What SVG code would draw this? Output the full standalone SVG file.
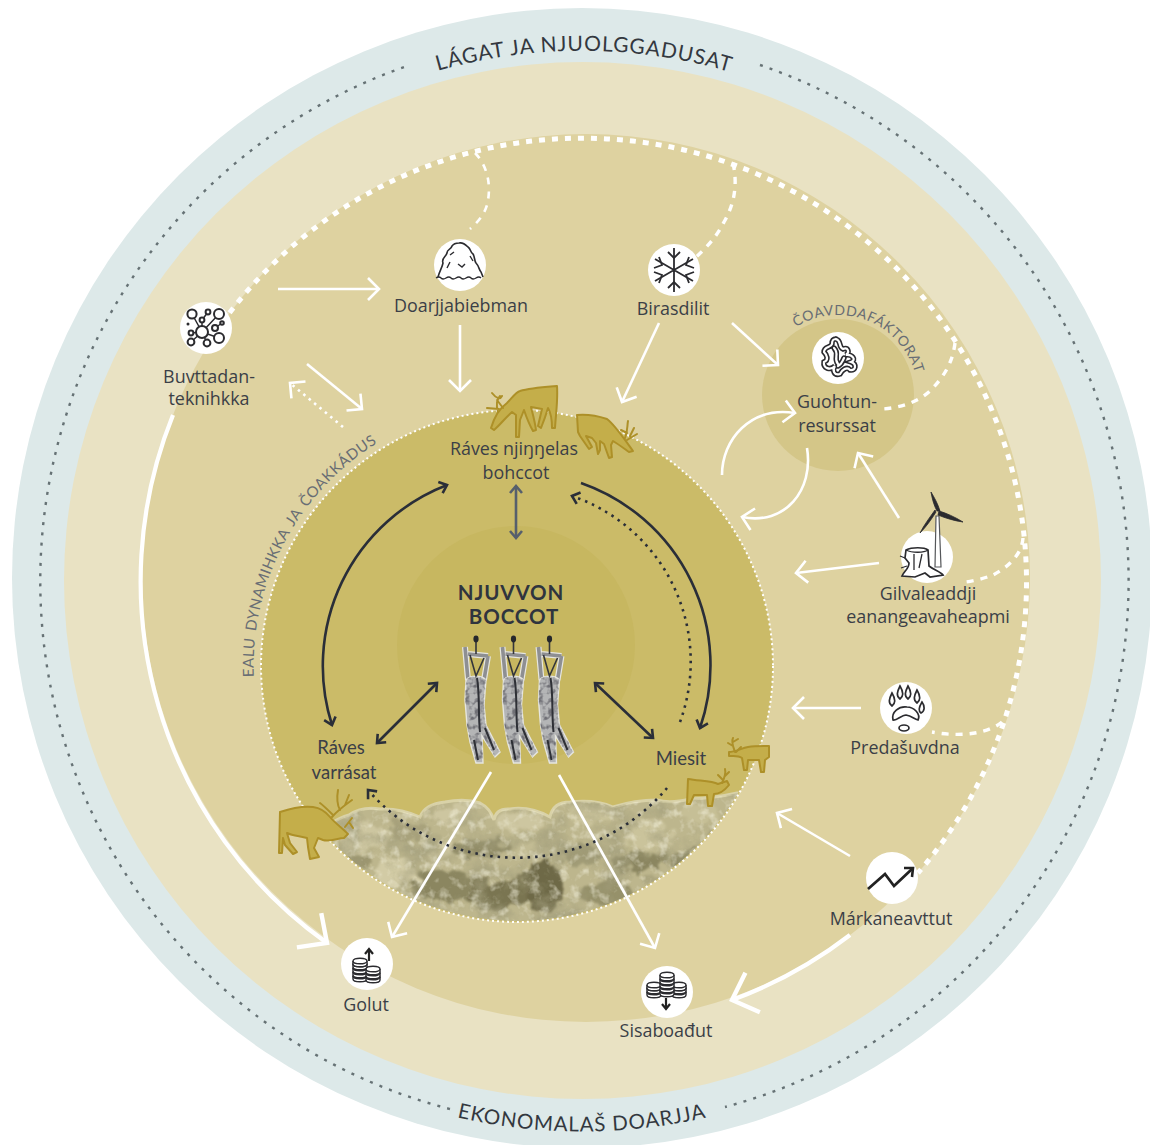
<svg xmlns="http://www.w3.org/2000/svg" xmlns:xlink="http://www.w3.org/1999/xlink" width="1150" height="1145" viewBox="0 0 1150 1145">
<style>
.lbl{font-family:"Open Sans","Noto Sans",sans-serif;font-size:17.9px;fill:#3b3f47;text-anchor:middle}
.gill{font-family:Lato,"Open Sans",sans-serif;font-size:18.5px;fill:#3b3f47;text-anchor:middle}
.title{font-family:Lato,sans-serif;font-size:20.5px;font-weight:700;fill:#2f343e;text-anchor:middle;letter-spacing:.9px}
.ring{font-family:Lato,sans-serif;fill:#33383f}
.sub{font-family:Lato,sans-serif;fill:#686d74}
.w{fill:none;stroke:#fff;stroke-width:2.6}
.wd{fill:none;stroke:#fff;stroke-width:2.6;stroke-dasharray:2.5 4.5}
.thick{fill:none;stroke:#fff;stroke-width:4.2}
.dk{fill:none;stroke:#2a2e38;stroke-width:2.6}
.dkd{fill:none;stroke:#2a2e38;stroke-width:2.6;stroke-dasharray:2.5 5}
.branch{fill:none;stroke:#fff;stroke-width:3.4;stroke-dasharray:7 7}
.ic{fill:none;stroke:#2b2b2f;stroke-width:2}
.deer{fill:#c4ae4a;stroke:#ad9028;stroke-width:2;stroke-linejoin:round}
.ant{fill:none;stroke:#ad9028;stroke-width:2;stroke-linecap:round}
.disc{fill:#fff}
</style>
<defs>
<path id="pTop" d="M243,174 A528,528 0 0 1 921,174"/>
<path id="pBot" d="M226,1002 A554,554 0 0 0 938,1002"/>
<path id="pEalu" d="M254,680 A263,263 0 0 1 517,403"/>
<path id="pCoav" d="M758,395 A80,80 0 0 1 918,395"/>
<marker id="mw" viewBox="-16 -16 32 32" markerWidth="32" markerHeight="32" markerUnits="userSpaceOnUse" orient="auto" overflow="visible"><path d="M-11,-11 L0,0 L-11,11" fill="none" stroke="#fff" stroke-width="2.6"/></marker>
<marker id="mt" viewBox="-34 -34 68 68" markerWidth="68" markerHeight="68" markerUnits="userSpaceOnUse" orient="auto" overflow="visible"><path d="M-22,-21 L0,0 L-22,21" fill="none" stroke="#fff" stroke-width="4.4"/></marker>
<marker id="md" viewBox="-12 -12 24 24" markerWidth="24" markerHeight="24" markerUnits="userSpaceOnUse" orient="auto-start-reverse" overflow="visible"><path d="M-7,-6 L0,0 L-7,6" fill="none" stroke="#2a2e38" stroke-width="2.6"/></marker>
<marker id="ms" viewBox="-12 -12 24 24" markerWidth="24" markerHeight="24" markerUnits="userSpaceOnUse" orient="auto-start-reverse" overflow="visible"><path d="M-7,-6 L0,0 L-7,6" fill="none" stroke="#565f6c" stroke-width="2.6"/></marker>
<clipPath id="cInner"><circle cx="517" cy="666" r="255"/></clipPath>
<path id="herdShape" d="M318,838 Q330,820 349,815 Q362,806 380,809 Q400,808 420,817 Q425,804 445,802 Q465,798 480,803 Q490,808 494,820 Q496,808 510,809 Q530,806 550,817 Q553,802 570,802 Q595,799 613,807 Q635,800 657,800 Q670,804 690,799 Q715,798 737,793 L790,790 V960 H300 Z"/>
<clipPath id="cHerd"><use href="#herdShape"/></clipPath>
<filter id="tex" x="0" y="0" width="1" height="1"><feTurbulence type="fractalNoise" baseFrequency=".03" numOctaves="5" seed="11"/><feColorMatrix values="0 0 0 0 .36 0 0 0 0 .34 0 0 0 0 .2 3.4 0 0 0 -1.55"/><feComposite operator="in" in2="SourceGraphic"/></filter>
<filter id="tex2" x="0" y="0" width="1" height="1"><feTurbulence type="fractalNoise" baseFrequency=".1" numOctaves="3" seed="23"/><feColorMatrix values="0 0 0 0 .93 0 0 0 0 .91 0 0 0 0 .76 3 0 0 0 -1.5"/><feComposite operator="in" in2="SourceGraphic"/></filter>
<filter id="rough" x="-.1" y="-.1" width="1.2" height="1.2"><feTurbulence type="fractalNoise" baseFrequency=".07" numOctaves="3" seed="3"/><feDisplacementMap in="SourceGraphic" scale="22" xChannelSelector="R" yChannelSelector="G"/><feGaussianBlur stdDeviation="1"/></filter>
<filter id="fur" x="-.1" y="-.1" width="1.2" height="1.2"><feTurbulence type="fractalNoise" baseFrequency=".2" numOctaves="2" seed="4"/><feColorMatrix values="0 0 0 0 .16 0 0 0 0 .16 0 0 0 0 .18 3.2 0 0 0 -1.4"/><feComposite operator="in" in2="SourceGraphic"/></filter>
<g id="carcass">
<path d="M465,647 L468,680 M488,656 L484,680 M468,654 L488,656" fill="none" stroke="#e6e6e0" stroke-width="6"/>
<path d="M465,647 L468,680 M488,656 L484,680 M468,654 L488,656" fill="none" stroke="#8e8f92" stroke-width="3.6"/>
<path id="cb" d="M466,680 C470,675 482,675 486,680 L484,705 L486,725 L500,752 L495,757 L482,736 L483,763 L476,763 L470,742 L467,725 L465,700 Z" fill="#b4b5b6" stroke="#e6e6e0" stroke-width="1.4"/>
<path d="M466,680 C470,675 482,675 486,680 L484,705 L486,725 L500,752 L495,757 L482,736 L483,763 L476,763 L470,742 L467,725 L465,700 Z" fill="#000" filter="url(#fur)"/>
<path d="M470,655 L476,676 L484,658 M476,640 L476,654" fill="none" stroke="#33353b" stroke-width="1.6"/>
<ellipse cx="476" cy="639" rx="2.6" ry="3.4" fill="#25272c"/>
<path d="M477,678 C480,695 478,715 480,732 M485,728 L494,750 M474,740 L478,760" fill="none" stroke="#2e3036" stroke-width="2"/>
</g>
<g id="coin"><path d="M-7,0 V3 A7,2.8 0 0 0 7,3 V0" fill="#fff" stroke="#2b2b2f" stroke-width="1.4"/><ellipse rx="7" ry="2.8" fill="#fff" stroke="#2b2b2f" stroke-width="1.4"/></g>
</defs>

<g id="background">
<circle cx="582" cy="578" r="570" fill="#dde9e9"/>
<circle cx="582.5" cy="580.5" r="518.5" fill="#e9e2c3"/>
<circle cx="586" cy="578" r="444" fill="#ded2a0"/>
<circle cx="838" cy="395" r="76" fill="#d4c688"/>
<circle cx="517" cy="666" r="256" fill="#cbbb68"/>
<circle cx="516" cy="645" r="119" fill="#c7b760"/>
</g>

<g id="herd" clip-path="url(#cInner)">
<use href="#herdShape" fill="#bdb68d" stroke="#d9d2a8" stroke-width="3"/>
<g clip-path="url(#cHerd)">
<g filter="url(#rough)">
<ellipse cx="365" cy="838" rx="26" ry="15" fill="#cdc6a0"/><ellipse cx="410" cy="830" rx="20" ry="10" fill="#a8a27c"/><ellipse cx="447" cy="816" rx="20" ry="9" fill="#cdc6a0"/><ellipse cx="520" cy="822" rx="22" ry="9" fill="#cdc6a0"/><ellipse cx="590" cy="814" rx="24" ry="8" fill="#c9c29a"/><ellipse cx="650" cy="836" rx="24" ry="14" fill="#cac39b"/><ellipse cx="395" cy="873" rx="22" ry="14" fill="#d2cba5"/><ellipse cx="700" cy="812" rx="20" ry="9" fill="#c6bf96"/><ellipse cx="720" cy="840" rx="16" ry="10" fill="#a19b76"/>
<ellipse cx="355" cy="862" rx="16" ry="8" fill="#9c9670"/><ellipse cx="445" cy="885" rx="32" ry="16" fill="#8b8661"/><ellipse cx="500" cy="895" rx="36" ry="14" fill="#7a7551"/><ellipse cx="545" cy="885" rx="20" ry="26" fill="#6e6947"/><ellipse cx="610" cy="895" rx="28" ry="14" fill="#96916b"/><ellipse cx="640" cy="862" rx="26" ry="10" fill="#8b8661"/><ellipse cx="585" cy="855" rx="22" ry="10" fill="#a09b76"/><ellipse cx="480" cy="848" rx="28" ry="9" fill="#928d68"/><ellipse cx="690" cy="860" rx="20" ry="8" fill="#8f8a66"/><ellipse cx="530" cy="850" rx="18" ry="8" fill="#c2bb93"/><ellipse cx="440" cy="852" rx="14" ry="8" fill="#cdc6a0"/><ellipse cx="660" cy="885" rx="14" ry="8" fill="#aca67f"/>
</g>
<use href="#herdShape" fill="#000" filter="url(#tex)" opacity=".7"/>
<use href="#herdShape" fill="#000" filter="url(#tex2)" opacity=".5"/>
</g>
</g>
<circle cx="517" cy="666" r="256" fill="none" stroke="#fff" stroke-width="2" stroke-dasharray="2 3"/>

<g id="connectors">
<path d="M760,65 A545,545 0 0 1 725,1107" fill="none" stroke="#667275" stroke-width="2.4" stroke-dasharray="3 7.2"/>
<path d="M450,1109 A545,545 0 0 1 410,65" fill="none" stroke="#667275" stroke-width="2.4" stroke-dasharray="3 7.2"/>
<path d="M222,323 A444,444 0 1 1 918,873" fill="none" stroke="#fff" stroke-width="5" stroke-dasharray="6 7"/>
<path class="branch" d="M475,153 C487,165 492,185 487,205 C484,215 478,222 470,229" style="stroke-width:2.6"/>
<path class="branch" d="M733,163 C738,185 734,205 724,222 C716,238 706,248 695,258"/>
<path class="branch" d="M955,343 C953,360 946,375 930,391 C918,402 900,408 882,409"/>
<path class="branch" d="M1023,538 C1022,552 1012,565 993,575 C985,578 975,581 965,582"/>
<path class="branch" d="M1002,722 C990,732 965,738 932,732"/>
<path class="thick" marker-end="url(#mt)" d="M173,415 A444,444 0 0 0 327,943"/>
<path class="thick" marker-end="url(#mt)" d="M850,935 A444,444 0 0 1 732,1000"/>
<path class="w" marker-end="url(#mw)" d="M278,289 H379"/>
<path class="w" marker-end="url(#mw)" d="M460,325 V391"/>
<path class="w" marker-end="url(#mw)" d="M659,323 L622,402"/>
<path class="w" marker-end="url(#mw)" d="M732,323 L778,365"/>
<path class="w" marker-end="url(#mw)" d="M307,364 L362,409"/>
<path class="wd" marker-end="url(#mw)" d="M343,427 L290,383"/>
<path class="w" marker-end="url(#mw)" d="M722,475 C722,440 750,406 795,413"/>
<path class="w" marker-end="url(#mw)" d="M807,448 C814,490 785,526 742,517"/>
<path class="w" marker-end="url(#mw)" d="M899,518 L858,453"/>
<path class="w" marker-end="url(#mw)" d="M879,563 L796,573"/>
<path class="w" marker-end="url(#mw)" d="M861,708 H793"/>
<path class="w" marker-end="url(#mw)" d="M850,856 L777,813"/>
<path class="w" marker-end="url(#mw)" d="M491,772 L392,937"/>
<path class="w" marker-end="url(#mw)" d="M559,775 L655,948"/>
<path class="dk" marker-start="url(#md)" marker-end="url(#md)" d="M447,485 A194,194 0 0 0 332,725"/>
<path class="dk" marker-end="url(#md)" d="M581,483 A193,193 0 0 1 700,728"/>
<path class="dkd" marker-end="url(#md)" d="M680,722 A175,175 0 0 0 572,496"/>
<path class="dkd" marker-end="url(#md)" d="M667,788 A197,197 0 0 1 368,790"/>
<path fill="none" stroke="#565f6c" stroke-width="2.6" marker-start="url(#ms)" marker-end="url(#ms)" d="M516,486 V538"/>
<path class="dk" marker-start="url(#md)" marker-end="url(#md)" d="M437,683 L377,743"/>
<path class="dk" marker-start="url(#md)" marker-end="url(#md)" d="M595,683 L653,738"/>
</g>

<g id="ring-labels">
<text class="ring" font-size="21" letter-spacing=".9"><textPath href="#pTop" startOffset="50.3%" text-anchor="middle">LÁGAT JA NJUOLGGADUSAT</textPath></text>
<text class="ring" font-size="20.5" letter-spacing=".9"><textPath href="#pBot" startOffset="50%" text-anchor="middle">EKONOMALAŠ DOARJJA</textPath></text>
<text class="sub" font-size="15" letter-spacing=".5" word-spacing="2"><textPath href="#pEalu" startOffset="3">EALU DYNAMIHKKA JA ČOAKKÁDUS</textPath></text>
<text class="sub" font-size="14" letter-spacing=".6"><textPath href="#pCoav" startOffset="81">ČOAVDDAFÁKTORAT</textPath></text>
</g>

<g id="deer">
<g id="deer-left"><path class="deer" d="M280,812 C292,808 305,806 313,807 C320,808 326,812 330,817 C335,823 342,828 348,834 L344,838 C338,838 330,842 323,840 L318,838 L314,848 L319,857 L310,859 L308,847 L307,838 C300,836 293,836 287,833 L290,843 L297,852 L293,854 L285,845 L283,838 L282,853 L279,853 Z"/><path class="ant" d="M332,817 C338,810 345,805 352,800 M340,810 C336,803 337,796 338,790 M345,805 L349,795 M333,815 C328,810 324,806 320,803 M345,827 L352,818 M349,822 L353,828"/></g>
<g id="deer-top"><path class="deer" d="M557,386 C558,400 556,412 555,428 L552,428 C552,420 551,413 548,408 C546,415 543,423 541,428 L538,426 L542,409 L531,407 C533,415 535,422 536,430 L533,431 C529,424 526,416 524,410 L520,420 L519,437 L516,437 L516,415 L512,412 C505,418 500,425 494,430 L491,428 C494,418 500,408 507,403 C512,398 516,392 520,391 C530,388 545,387 557,386Z"/><path class="ant" d="M498,412 C496,405 496,400 500,396 M492,393 C496,398 500,400 502,396 M487,408 L499,409 M497,400 L503,408"/></g>
<g id="deer-right"><path class="deer" d="M577,415 C588,414 598,416 607,419 C615,425 625,440 633,451 L629,452 C622,447 618,444 613,441 L611,445 L612,457 L609,458 L604,444 L600,441 L600,450 L598,454 L596,443 L592,438 L586,436 L592,447 L589,449 L580,436 L578,432 Z"/><path class="ant" d="M625,438 C628,430 627,426 628,421 M621,430 L627,433 M627,440 L637,434 M630,436 L634,428"/></g>
<g id="deer-m1"><path class="deer" d="M729,752 C735,752 742,748 748,747 C755,746 762,746 769,746 V757 L765,760 L764,772 L761,772 L759,760 L748,760 L747,770 L744,770 L742,758 C738,755 733,756 729,756Z"/><path class="ant" d="M735,752 C733,746 731,742 733,738 M733,746 L728,743 M733,742 L738,739 M736,752 L741,747"/></g>
<g id="deer-m2"><path class="deer" d="M688,779 C700,781 712,781 718,784 L727,781 L729,785 C725,790 720,794 714,794 L712,806 L708,806 L707,795 L694,795 L690,804 L687,804Z"/><path class="ant" d="M722,783 C725,777 726,773 725,769 M725,776 L729,772 M723,780 L718,775"/></g>
</g>

<g id="carcasses"><use href="#carcass"/><use href="#carcass" x="37.5"/><use href="#carcass" x="73.5"/></g>

<g id="center-title"><text class="title" x="511" y="600">NJUVVON</text><text class="title" x="514" y="624">BOCCOT</text></g>
<g id="n-raves-bohccot"><text class="lbl" x="514" y="455">Ráves njiŋŋelas</text><text class="lbl" x="516" y="479">bohccot</text></g>
<g id="n-varrasat"><text class="gill" x="341" y="754">Ráves</text><text class="gill" x="344" y="779">varrásat</text></g>
<g id="n-miesit"><text class="gill" x="681" y="765">Miesit</text></g>

<g id="n-buvttadan"><circle class="disc" cx="206" cy="328" r="26"/>
<g class="ic"><path d="M202,332 L192,314 M202,332 L219,314 M202,332 L219,338 M202,332 L207,343 M202,332 L191,342 M202,332 L191,333 M202,332 L202,320 M202,320 L208,312 M215,328 L222,323" stroke-width="1.5"/></g>
<g fill="#fff" stroke="#2b2b2f" stroke-width="2"><circle cx="202" cy="332" r="6"/><circle cx="192" cy="314" r="4.6"/><circle cx="219" cy="314" r="5"/><circle cx="219" cy="338" r="5"/><circle cx="207" cy="343" r="3.4"/><circle cx="191" cy="342" r="3.4"/><circle cx="191" cy="333" r="2.4"/><circle cx="202" cy="320" r="2.4"/><circle cx="208" cy="312" r="2.4"/><circle cx="215" cy="328" r="3"/><circle cx="222" cy="323" r="1.8"/></g><circle cx="188" cy="324" r="1.5" fill="#2b2b2f"/>
<text class="lbl" x="209" y="383">Buvttadan-</text><text class="lbl" x="209" y="405">teknihkka</text></g>

<g id="n-doarjja"><circle class="disc" cx="460" cy="265" r="26"/>
<path class="ic" d="M438,277 C440,270 442,268 443,263 C441,258 446,257 447,253 C447,249 451,250 452,246 C454,243 457,243 459,243 C463,242 466,245 468,247 C471,249 470,252 473,254 C475,257 474,260 476,263 C479,266 479,270 481,272 L483,277" style="stroke-width:1.6"/>
<path class="ic" d="M436,278 q3,-2 5,0 t5,0 t5,0 t5,0 t5,0 t5,0 t5,0 t5,0 t5,0" style="stroke-width:1.4"/><path class="ic" d="M458,264 l4,3 l3,-3 M447,268 l3,-6 M470,256 l3,5 M450,255 l4,-3" style="stroke-width:1.4"/>
<text class="lbl" x="461" y="312">Doarjjabiebman</text></g>

<g id="n-birasdilit"><circle class="disc" cx="674" cy="270" r="26"/>
<g class="ic" style="stroke-width:1.8"><path d="M674,248 V292 M655,259 L693,281 M655,281 L693,259"/><path d="M668,252 L674,258 L680,252 M668,288 L674,282 L680,288 M654,268 L662,265 L659,257 M694,268 L686,265 L689,257 M654,272 L662,275 L659,283 M694,272 L686,275 L689,283"/></g>
<text class="lbl" x="673" y="315">Birasdilit</text></g>

<g id="n-guohtun"><circle class="disc" cx="838" cy="358" r="26"/>
<g fill="none"><path id="lich" d="M836,339 C842,341 838,347 843,349 C848,347 850,352 846,355 C852,354 857,360 851,362 C857,364 856,371 850,370 C847,366 842,370 840,374 C834,376 832,370 835,366 C830,371 823,368 824,362 C829,360 827,355 824,352 C824,346 831,348 832,344 C832,340 833,339 836,339 M834,348 C840,354 833,358 838,364 M844,358 C842,362 842,364 838,366" stroke="#2b2b2f" stroke-width="5.4" stroke-linecap="round"/><path d="M836,339 C842,341 838,347 843,349 C848,347 850,352 846,355 C852,354 857,360 851,362 C857,364 856,371 850,370 C847,366 842,370 840,374 C834,376 832,370 835,366 C830,371 823,368 824,362 C829,360 827,355 824,352 C824,346 831,348 832,344 C832,340 833,339 836,339 M834,348 C840,354 833,358 838,364 M844,358 C842,362 842,364 838,366" stroke="#fff" stroke-width="2.2" stroke-linecap="round"/></g>
<text class="lbl" x="837" y="408">Guohtun-</text><text class="lbl" x="837" y="432">resurssat</text></g>

<g id="n-gilvaleaddji"><circle class="disc" cx="927" cy="557" r="26"/>
<path d="M936,516 L935,567 H941 L939,516 Z" fill="#fff" stroke="#55575a" stroke-width="1.2"/>
<path d="M937,511 C934,506 932,498 931,492 C934,497 938,504 940,511 Z M939,511 C946,513 955,517 963,522 C955,521 945,518 938,515 Z M936,512 C931,520 926,527 920,533 C924,525 930,517 935,510 Z" fill="#2b2b2f" stroke="#2b2b2f" stroke-width=".8"/>
<path d="M906,550 C912,547 924,547 928,550 L929,566 C934,570 941,572 943,575 L930,577 L925,573 L915,577 L902,576 C904,571 909,569 909,563 L905,558 Z" fill="#fff" stroke="#2b2b2f" stroke-width="1.7"/>
<path d="M906,550 C912,553 924,553 928,550 M914,554 V570 M922,554 L919,568 M905,558 L900,556 M907,566 L901,568" fill="none" stroke="#2b2b2f" stroke-width="1.3"/>
<text class="lbl" x="928" y="600">Gilvaleaddji</text><text class="lbl" x="928" y="623">eanangeavaheapmi</text></g>

<g id="n-predasuvdna"><circle class="disc" cx="906" cy="708" r="26"/>
<g fill="#fff" stroke="#2b2b2f" stroke-width="1.7"><path d="M892,693 C889,699 888,703 892,706 C896,703 895,698 892,693Z"/><path d="M900,686 C897,692 896,696 900,699 C904,696 903,691 900,686Z"/><path d="M908,686 C905,692 904,696 908,699 C912,696 911,691 908,686Z"/><path d="M917,690 C914,696 913,700 917,703 C921,700 920,695 917,690Z"/><path d="M922,702 C919,707 918,711 921,713 C925,711 925,706 922,702Z"/>
<path d="M893,720 C891,712 899,706 907,707 C914,707 921,714 918,720 C914,719 912,716 906,715 C901,715 897,721 893,720Z"/><ellipse cx="904" cy="728" rx="5" ry="3"/></g>
<text class="lbl" x="905" y="754">Predašuvdna</text></g>

<g id="n-markane"><circle class="disc" cx="892" cy="878" r="26"/>
<path d="M868,889 L885,874 L894,886 L912,869" fill="none" stroke="#222" stroke-width="2.8"/><path d="M904,868 L913,868 L912,877" fill="none" stroke="#222" stroke-width="2.6"/>
<text class="lbl" x="891" y="925">Márkaneavttut</text></g>

<g id="n-golut"><circle class="disc" cx="367" cy="964" r="26"/>
<use href="#coin" x="360" y="976"/><use href="#coin" x="360" y="972"/><use href="#coin" x="360" y="968"/><use href="#coin" x="360" y="964"/><use href="#coin" x="360" y="961"/>
<use href="#coin" x="373" y="977"/><use href="#coin" x="373" y="973"/><use href="#coin" x="373" y="969"/>
<path d="M369,961 V950 M365,954 L369,949 L373,954" fill="none" stroke="#222" stroke-width="2.2"/>
<text class="lbl" x="366" y="1011">Golut</text></g>

<g id="n-sisaboadut"><circle class="disc" cx="667" cy="992" r="26"/>
<use href="#coin" x="654" y="992"/><use href="#coin" x="654" y="988"/><use href="#coin" x="654" y="985"/>
<use href="#coin" x="679" y="992"/><use href="#coin" x="679" y="988"/><use href="#coin" x="679" y="985"/>
<use href="#coin" x="667" y="991"/><use href="#coin" x="667" y="987"/><use href="#coin" x="667" y="983"/><use href="#coin" x="667" y="979"/><use href="#coin" x="667" y="975"/>
<path d="M666,998 V1008 M662,1004 L666,1009 L670,1004" fill="none" stroke="#222" stroke-width="2.2"/>
<text class="lbl" x="666" y="1037">Sisaboađut</text></g>
</svg>
